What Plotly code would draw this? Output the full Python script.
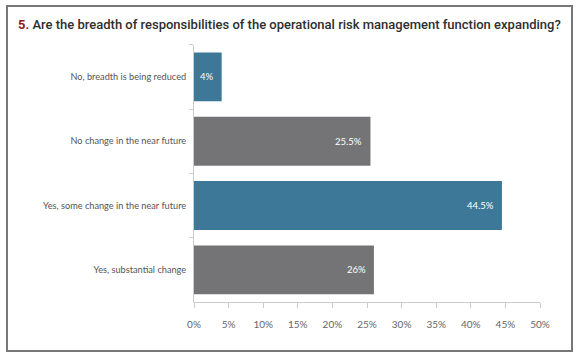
import plotly.graph_objects as go

categories = [
    "No, breadth is being reduced",
    "No change in the near future",
    "Yes, some change in the near future",
    "Yes, substantial change",
]
values = [4, 25.5, 44.5, 26]
value_labels = ["4%", "25.5%", "44.5%", "26%"]
bar_colors = ["#3d7898", "#747477", "#3d7898", "#747477"]
x_tick_vals = [0, 5, 10, 15, 20, 25, 30, 35, 40, 45, 50]
x_tick_text = ["0%", "5%", "10%", "15%", "20%", "25%", "30%", "35%", "40%", "45%", "50%"]

W, H = 580, 358
x0, x1 = 194, 540
y_top, y_bot = 44.7, 302

fig = go.Figure()
fig.add_trace(go.Bar(
    y=categories, x=values, orientation="h",
    marker=dict(color=bar_colors, line=dict(width=0)),
    hoverinfo="skip",
))

for c, v, t in zip(categories, values, value_labels):
    fig.add_annotation(
        x=v, y=c, xref="x", yref="y", text=t, showarrow=False,
        xanchor="right", xshift=-6,
        font=dict(family="Lato", size=9.5, color="#ffffff"),
    )

fig.add_annotation(
    x=16 / W, y=1 - 25 / H, xref="paper", yref="paper",
    xanchor="left", yanchor="middle", showarrow=False,
    text="<b><span style='color:#8e1b1f'>5.</span></b> Are the breadth of responsibilities of the operational risk management function expanding?",
    font=dict(family="Roboto", size=13, color="#2e2e2e", weight=500),
)

fig.add_shape(
    type="rect", xref="paper", yref="paper",
    x0=7 / W, x1=572 / W, y0=1 - 351 / H, y1=1 - 6 / H,
    line=dict(color="#777777", width=2), fillcolor="rgba(0,0,0,0)",
    layer="below",
)

fig.update_layout(
    width=W, height=H,
    margin=dict(l=0, r=0, t=0, b=0),
    paper_bgcolor="white", plot_bgcolor="white",
    bargap=0.24,
    showlegend=False,
    xaxis=dict(
        domain=[x0 / W, x1 / W], range=[0, 50],
        tickvals=x_tick_vals, ticktext=x_tick_text,
        showgrid=False, zeroline=False,
        showline=True, linecolor="#cccccc", linewidth=1,
        ticks="outside", ticklen=5, tickcolor="#cccccc",
        ticklabelstandoff=8,
        tickfont=dict(family="Lato", size=10, color="#666666"),
        automargin=False, fixedrange=True,
    ),
    yaxis=dict(
        domain=[1 - y_bot / H, 1 - y_top / H],
        categoryorder="array", categoryarray=categories,
        autorange="reversed",
        showgrid=False, zeroline=False,
        showline=True, linecolor="#cccccc", linewidth=1,
        ticks="outside", ticklen=4, tickcolor="#cccccc",
        tickson="boundaries",
        ticklabelstandoff=5,
        tickfont=dict(family="Lato", size=9.2, color="#555555"),
        automargin=False, fixedrange=True,
    ),
)

fig.write_html(
    "out.html",
    config={"displayModeBar": False},
    post_script="document.body.style.margin='0';document.body.style.overflow='hidden';",
)
